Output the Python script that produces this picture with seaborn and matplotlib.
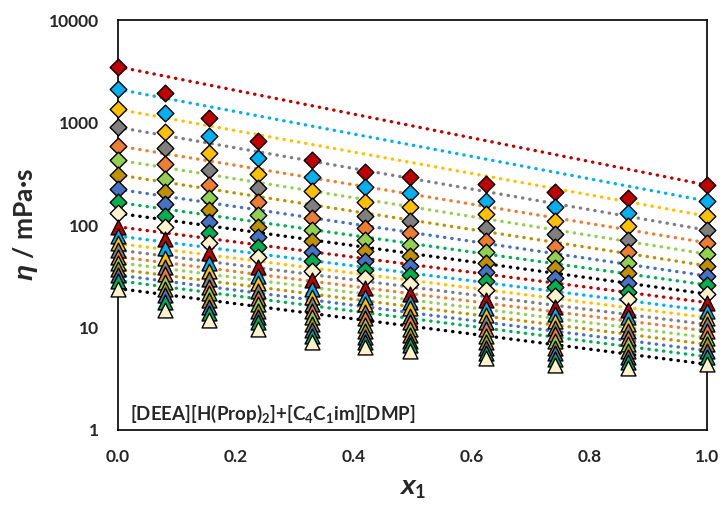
import matplotlib
matplotlib.use("Agg")
import matplotlib.pyplot as plt
import matplotlib.ticker as mticker
import numpy as np
import pandas as pd
import seaborn as sns

# mole fraction x1 of the measured mixtures
x1 = [0.0, 0.080, 0.154, 0.237, 0.329, 0.419, 0.495, 0.625, 0.742, 0.866, 1.0]

# viscosity (mPa·s), one row per temperature; upper 10 isotherms (diamonds)
eta_diamond = [
    [3500, 1928, 1099, 664, 430, 331, 296, 249, 211, 185, 245],
    [2110, 1247, 738, 447, 292, 233, 204, 171, 151, 132, 171],
    [1345, 813, 501, 315, 215, 169, 151, 127, 109, 98, 122],
    [898, 567, 344, 228, 154, 123, 109, 94, 81, 72, 89],
    [590, 391, 245, 166, 116, 93, 83, 70, 61, 55, 67],
    [430, 281, 182, 125, 89, 71, 64, 55, 48, 43, 52],
    [308, 211, 140, 96, 70, 56, 50, 43, 37.8, 33.8, 40],
    [223, 159, 108, 76, 55, 44.9, 40, 34.6, 30.2, 27.4, 31.8],
    [166, 122, 84, 61, 44.6, 36.4, 32.5, 28.4, 24.7, 22.3, 26],
    [130, 95, 67, 49, 35.8, 30.2, 26.4, 23.2, 20.4, 18.8, 21.2],
]
# lower 10 isotherms (triangles)
eta_triangle = [
    [96, 73, 53, 39, 29, 24.1, 21.2, 18.5, 16.0, 14.8, 17.5],
    [78, 59, 43, 31.8, 23.8, 20, 17.9, 15.6, 13.5, 12.6, 14.6],
    [66, 48, 35.5, 27, 20, 16.8, 15.4, 13.2, 11.6, 10.7, 12.5],
    [57, 39, 29.5, 22.7, 16.9, 14.3, 13, 11.2, 9.95, 9.25, 10.7],
    [49, 33, 25, 19.5, 14.6, 12.3, 11.2, 9.7, 8.6, 7.96, 9.25],
    [43, 28, 21.6, 16.8, 12.6, 10.6, 9.7, 8.3, 7.4, 6.85, 7.96],
    [37, 24, 18.5, 14.6, 10.8, 9.25, 8.5, 7.2, 6.35, 5.94, 6.85],
    [32.5, 20.8, 16, 12.7, 9.5, 8.1, 7.4, 6.3, 5.6, 5.19, 5.94],
    [28.6, 17.6, 13.9, 11.2, 8.3, 7.3, 6.7, 5.6, 4.9, 4.57, 5.19],
    [24, 14.8, 11.8, 9.6, 7.3, 6.4, 5.9, 5.0, 4.3, 4.0, 4.38],
]

fill_colors = ["#C00000", "#00B0F0", "#FFC000", "#7F7F7F", "#ED7D31",
               "#92D050", "#BF9000", "#4472C4", "#00B050", "#FFF2CC"]
line_colors = fill_colors[:9] + ["#000000"]

rows = []
for shape, block in (("D", eta_diamond), ("^", eta_triangle)):
    for i, vals in enumerate(block):
        for x, v in zip(x1, vals):
            rows.append({"x1": x, "eta": v, "series": f"{shape}{i}", "marker": shape, "idx": i})
df = pd.DataFrame(rows)

sns.set_style("white")
plt.rcParams["font.family"] = ["Lato", "DejaVu Sans"]
plt.rcParams["font.weight"] = "bold"
plt.rcParams["axes.labelweight"] = "bold"
plt.rcParams["mathtext.fontset"] = "custom"
plt.rcParams["mathtext.rm"] = "Lato:bold"
plt.rcParams["mathtext.bf"] = "Lato:bold"
plt.rcParams["mathtext.it"] = "Liberation Sans:bold:italic"
plt.rcParams["mathtext.bfit"] = "Liberation Sans:bold:italic"
plt.rcParams["mathtext.fallback"] = "stixsans"

fig = plt.figure(figsize=(7.27, 5.13), dpi=100)
ax = fig.add_axes([0.1623, 0.1618, 0.8102, 0.7992])

# ideal (log-linear) mixing lines between pure-component endpoints
for name, sub in df.groupby("series", sort=False):
    sub = sub.sort_values("x1")
    i = sub["idx"].iloc[0]
    ends = sub.iloc[[0, -1]]
    ax.plot(ends["x1"], ends["eta"], linestyle=(0, (0.1, 2.1)), dash_capstyle="round",
            color=line_colors[i], lw=2.4, zorder=1)

for name, sub in df.groupby("series", sort=False):
    i = sub["idx"].iloc[0]
    m = sub["marker"].iloc[0]
    sns.scatterplot(data=sub, x="x1", y="eta", ax=ax, marker=m,
                    s=72 if m == "D" else 115, color=fill_colors[i],
                    edgecolor="black", linewidth=1.0, zorder=3, legend=False,
                    clip_on=False)

ax.set_yscale("log")
ax.set_xlim(0, 1)
ax.set_ylim(1, 10000)
ax.set_xticks([0, 0.2, 0.4, 0.6, 0.8, 1.0])
ax.xaxis.set_major_formatter(mticker.FormatStrFormatter("%.1f"))
ax.yaxis.set_major_locator(mticker.LogLocator(base=10, numticks=10))
ax.yaxis.set_minor_locator(mticker.NullLocator())
ax.yaxis.set_major_formatter(mticker.FuncFormatter(lambda v, p: f"{v:g}"))
ax.tick_params(direction="in", length=5, width=1, labelsize=12.5)
ax.tick_params(axis="x", pad=14)
ax.tick_params(axis="y", pad=14)
for sp in ax.spines.values():
    sp.set_color("black")
    sp.set_linewidth(1.2)

ax.set_xlabel(r"$\mathit{x}_\mathbf{1}$", fontsize=19, labelpad=8)
ax.set_ylabel(r"$\mathit{\eta}$ / mPa·s", fontsize=19, labelpad=6)
ax.text(0.02, 0.024, r"[DEEA][H(Prop)$_\mathbf{2}$]+[C$_\mathbf{4}$C$_\mathbf{1}$im][DMP]",
        transform=ax.transAxes, fontsize=13.5, ha="left", va="baseline")

fig.savefig("out.png", dpi=100)
